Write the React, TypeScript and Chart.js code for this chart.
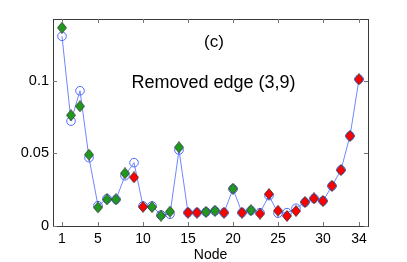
import { useEffect, useRef } from 'react';
import { Chart, registerables } from 'chart.js';

Chart.register(...registerables);

const nodes = Array.from({ length: 34 }, (_, i) => i + 1);
const diamondValues = [
  0.1365, 0.0762, 0.0824, 0.0491, 0.0128, 0.0183, 0.0183, 0.0363, 0.0335, 0.0132,
  0.0130, 0.0071, 0.0099, 0.0542, 0.0092, 0.0092, 0.0097, 0.0105, 0.0092, 0.0257,
  0.0092, 0.0108, 0.0085, 0.0220, 0.0105, 0.0069, 0.0103, 0.0165, 0.0190, 0.0172,
  0.0277, 0.0385, 0.0620, 0.1010,
];
const circleValues = [
  0.1306, 0.0722, 0.0931, 0.0470, 0.0140, 0.0188, 0.0183, 0.0346, 0.0436, 0.0138,
  0.0138, 0.0076, 0.0081, 0.0523, 0.0092, 0.0092, 0.0097, 0.0103, 0.0092, 0.0255,
  0.0092, 0.0107, 0.0092, 0.0209, 0.0088, 0.0092, 0.0122, 0.0163, 0.0190, 0.0173,
  0.0275, 0.0387, 0.0620, 0.1010,
];
// G = green, R = red
const diamondKinds = 'GGGGGGGGRRGGGGRRGGRGRGRRRRRRRRRRRR'.split('');
const xTicks = [1, 5, 10, 15, 20, 25, 30, 34];
const yTicks = [0, 0.05, 0.1];
const yTickLabels = ['0', '0.05', '0.1'];

const GREEN = '#1f9a1f';
const RED = '#ff0000';
const FONT = '"Liberation Sans", Arial, sans-serif';

function makeDiamond(fill: string): HTMLCanvasElement {
  const c = document.createElement('canvas');
  c.width = 10;
  c.height = 12;
  const g = c.getContext('2d')!;
  g.beginPath();
  g.moveTo(5, 0.5);
  g.lineTo(9.5, 6);
  g.lineTo(5, 11.5);
  g.lineTo(0.5, 6);
  g.closePath();
  g.fillStyle = fill;
  g.fill();
  g.lineWidth = 0.8;
  g.strokeStyle = '#333';
  g.stroke();
  return c;
}

const framePlugin = {
  id: 'frame',
  afterDatasetsDraw(chart: any) {
    const { ctx, chartArea: a, scales } = chart;
    ctx.save();
    ctx.strokeStyle = '#3a3a3a';
    ctx.lineWidth = 1;
    ctx.strokeRect(Math.round(a.left) + 0.5, Math.round(a.top) + 0.5, Math.round(a.right - a.left), Math.round(a.bottom - a.top));
    ctx.strokeStyle = '#777';
    const L = 4;
    ctx.beginPath();
    for (const t of xTicks) {
      const x = Math.round(scales.x.getPixelForValue(t)) + 0.5;
      ctx.moveTo(x, a.bottom);
      ctx.lineTo(x, a.bottom - L);
      ctx.moveTo(x, a.top);
      ctx.lineTo(x, a.top + L);
    }
    for (const t of yTicks) {
      const y = Math.round(scales.y.getPixelForValue(t)) + 0.5;
      ctx.moveTo(a.left, y);
      ctx.lineTo(a.left + L, y);
      ctx.moveTo(a.right, y);
      ctx.lineTo(a.right - L, y);
    }
    ctx.stroke();
    ctx.fillStyle = '#000';
    ctx.textAlign = 'center';
    ctx.textBaseline = 'middle';
    ctx.font = `17px ${FONT}`;
    ctx.fillText('(c)', 214, 42);
    ctx.font = `18px ${FONT}`;
    ctx.fillText('Removed edge (3,9)', 213.5, 83);
    ctx.restore();
  },
};

export default function App() {
  const ref = useRef<HTMLCanvasElement>(null);
  useEffect(() => {
    document.body.style.margin = '0';
    const green = makeDiamond(GREEN);
    const red = makeDiamond(RED);
    const chart = new Chart(ref.current!, {
      type: 'line',
      data: {
        datasets: [
          {
            label: 'diamonds',
            data: nodes.map((n, i) => ({ x: n, y: diamondValues[i] })),
            showLine: false,
            pointStyle: diamondKinds.map((k) => (k === 'G' ? green : red)) as any,
            pointRadius: 6,
          },
          {
            label: 'circles',
            data: nodes.map((n, i) => ({ x: n, y: circleValues[i] })),
            borderColor: '#6f86ff',
            borderWidth: 1,
            pointStyle: 'circle',
            pointRadius: 4.3,
            pointBorderColor: '#4f6bff',
            pointBackgroundColor: 'rgba(0,0,0,0)',
            pointBorderWidth: 1,
            tension: 0,
          },
        ],
      },
      options: {
        animation: false,
        responsive: true,
        maintainAspectRatio: false,
        layout: { padding: { left: 0, top: 19, right: 39, bottom: 0 } },
        plugins: { legend: { display: false }, tooltip: { enabled: false } },
        scales: {
          x: {
            type: 'linear',
            min: 0,
            max: 35,
            grid: { display: false, drawTicks: false },
            border: { display: false },
            afterBuildTicks: (s: any) => {
              s.ticks = xTicks.map((v) => ({ value: v }));
            },
            afterFit: (s: any) => {
              s.height = 36;
            },
            ticks: {
              color: '#000',
              padding: 5,
              maxRotation: 0,
              autoSkip: false,
              font: { family: FONT, size: 14 },
              callback: (v: any) => String(v),
            },
            title: {
              display: true,
              text: 'Node',
              color: '#000',
              font: { family: FONT, size: 14, lineHeight: 1 },
              padding: { top: 0, bottom: 0 },
            },
          },
          y: {
            type: 'linear',
            min: 0,
            max: 0.1425,
            grid: { display: false, drawTicks: false },
            border: { display: false },
            afterBuildTicks: (s: any) => {
              s.ticks = yTicks.map((v) => ({ value: v }));
            },
            afterFit: (s: any) => {
              s.width = 53;
            },
            ticks: {
              color: '#000',
              padding: 4,
              autoSkip: false,
              font: { family: FONT, size: 14.5 },
              callback: (v: any) => {
                const i = yTicks.indexOf(v);
                return i >= 0 ? yTickLabels[i] : '';
              },
            },
          },
        },
      },
      plugins: [framePlugin],
    });
    return () => chart.destroy();
  }, []);
  return (
    <div style={{ position: 'absolute', left: 0, top: 0, width: 407, height: 262 }}>
      <canvas ref={ref} />
    </div>
  );
}
